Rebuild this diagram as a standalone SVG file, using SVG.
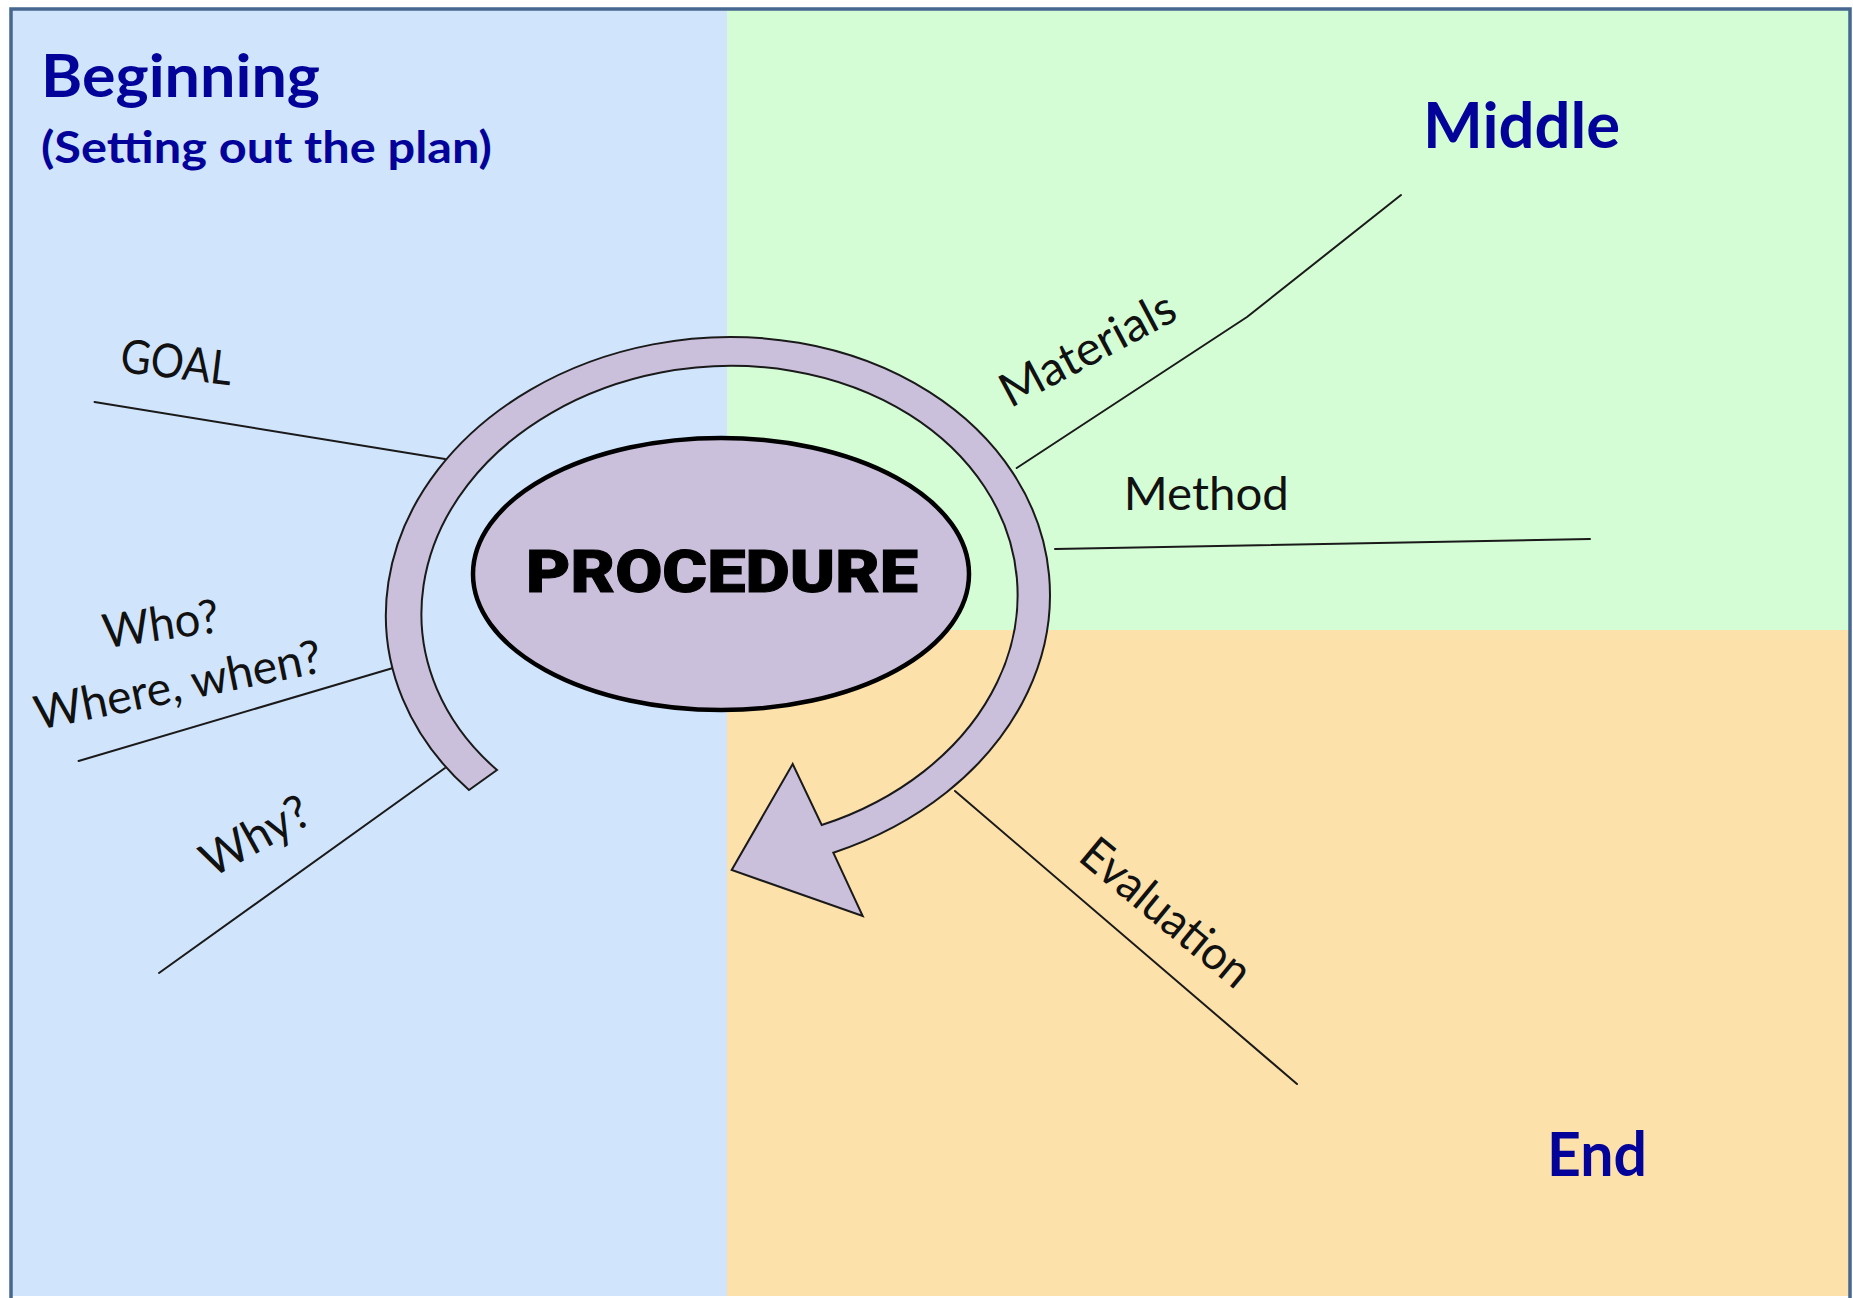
<svg xmlns="http://www.w3.org/2000/svg" width="1853" height="1298" viewBox="0 0 1853 1298">
  <style>
    .title { font-family: "Lato", "Liberation Sans", sans-serif; font-weight: 700; fill: #03039a; }
    .label { font-family: "Lato", "Liberation Sans", sans-serif; font-size: 47px; fill: #111111; }
    .conn { fill: none; stroke: #1a1a1a; stroke-width: 2; stroke-linecap: round; stroke-linejoin: round; }
    .proc { font-family: "Roboto", "Liberation Sans", sans-serif; font-weight: 900; font-size: 60px; fill: #000000; stroke: #000000; stroke-width: 1; }
  </style>
  <rect x="0" y="0" width="1853" height="1298" fill="#ffffff"/>
  <g id="background">
    <rect x="11" y="9" width="716" height="1287" fill="#d0e4fc"/>
    <rect x="727" y="9" width="1123" height="621" fill="#d5fdd5"/>
    <rect x="727" y="630" width="1123" height="666" fill="#fde1ab"/>
    <path d="M11 1298 V9 H1850 V1298" fill="none" stroke="#46678f" stroke-width="3.5"/>
  </g>
  <g id="connectors">
    <line class="conn" x1="94.5" y1="402" x2="445" y2="459"/>
    <line class="conn" x1="78.6" y1="761" x2="393" y2="668"/>
    <line class="conn" x1="159" y1="973" x2="445" y2="768"/>
    <polyline class="conn" points="1016.7,468 1247,317 1401,195"/>
    <line class="conn" x1="1055" y1="549" x2="1590" y2="539"/>
    <line class="conn" x1="955" y1="791" x2="1297" y2="1084"/>
  </g>
  <g id="cycle-arrow">
    <path d="M469 790 A332.5 267.5 -5 1 1 833.3 852.7 L862.7 916 L731.7 870 L792.7 764 L821.7 825 A298.5 238 -5 1 0 497 770 Z" fill="#cbc0db" stroke="#1a1a1a" stroke-width="2" stroke-linejoin="miter"/>
  </g>
  <g id="procedure">
    <ellipse cx="721" cy="574" rx="248" ry="136" fill="#cbc0db" stroke="#000000" stroke-width="4.5"/>
    <text class="proc" x="722" y="592" text-anchor="middle" textLength="392" lengthAdjust="spacingAndGlyphs">PROCEDURE</text>
  </g>
  <g id="beginning">
    <text class="title" x="41" y="97" font-size="60" textLength="279" lengthAdjust="spacingAndGlyphs">Beginning</text>
    <text class="title" x="41" y="163" font-size="44" textLength="451" lengthAdjust="spacingAndGlyphs">(Setting out the plan)</text>
  </g>
  <g id="middle">
    <text class="title" x="1423" y="148" font-size="64" textLength="197" lengthAdjust="spacingAndGlyphs">Middle</text>
  </g>
  <g id="end">
    <text class="title" x="1547" y="1176" font-size="62" textLength="100" lengthAdjust="spacingAndGlyphs">End</text>
  </g>
  <g id="goal">
    <text class="label" transform="translate(174.5 378.5) rotate(7)" text-anchor="middle" textLength="112" lengthAdjust="spacingAndGlyphs">GOAL</text>
  </g>
  <g id="who">
    <text class="label" transform="translate(163 640) rotate(-8)" text-anchor="middle" textLength="117" lengthAdjust="spacingAndGlyphs">Who?</text>
  </g>
  <g id="where-when">
    <text class="label" transform="translate(181 701) rotate(-11.5)" text-anchor="middle" textLength="292" lengthAdjust="spacingAndGlyphs">Where, when?</text>
  </g>
  <g id="why">
    <text class="label" transform="translate(263 850) rotate(-29)" text-anchor="middle" textLength="117" lengthAdjust="spacingAndGlyphs">Why?</text>
  </g>
  <g id="materials">
    <text class="label" transform="translate(1095 363.5) rotate(-28)" text-anchor="middle" textLength="192" lengthAdjust="spacingAndGlyphs">Materials</text>
  </g>
  <g id="method">
    <text class="label" x="1206.3" y="510" text-anchor="middle" textLength="165" lengthAdjust="spacingAndGlyphs">Method</text>
  </g>
  <g id="evaluation">
    <text class="label" transform="translate(1156 925) rotate(39.5)" text-anchor="middle" textLength="206" lengthAdjust="spacingAndGlyphs">Evaluation</text>
  </g>
</svg>
